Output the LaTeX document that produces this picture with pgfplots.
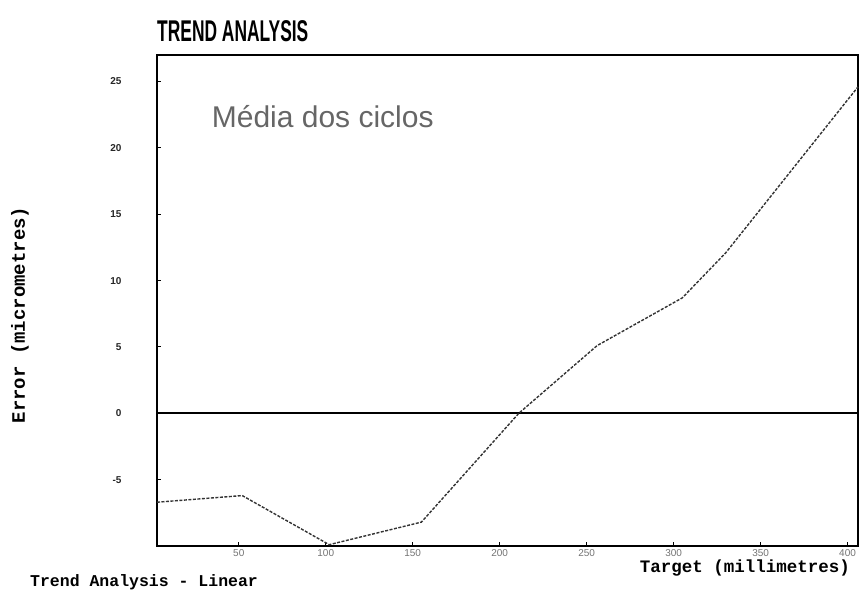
\documentclass[border=0pt]{standalone}
\usepackage{pgfplots}
\pgfplotsset{compat=1.18}
\usepackage{fontspec}
\setmainfont{Liberation Sans}
\setmonofont{Liberation Mono}
\begin{document}
\begin{tikzpicture}
\path[use as bounding box] (-157pt,-52pt) rectangle (704pt,546pt);
\begin{axis}[
  at={(0pt,0pt)}, anchor=south west,
  scale only axis, width=701pt, height=491pt,
  xmin=3, xmax=406, ymin=-10, ymax=27,
  xtick={50,100,...,400}, ytick={-5,0,...,25},
  tick align=inside, xtick pos=bottom, ytick pos=left,
  major tick length=4pt,
  tick style={black, line width=1pt},
  axis line style={line width=2pt},
  /pgf/number format/assume math mode=true,
  xticklabel style={font=\fontsize{10}{10}\selectfont, text=black!55},
  yticklabel style={font=\fontsize{10}{10}\selectfont\bfseries, text=black!85, xshift=-32pt},
  clip=false,
]
\addplot[black, line width=2pt] coordinates {(3,0) (406,0)};
\addplot[black!80, line width=1.4pt, dash pattern=on 3pt off 1.5pt] coordinates {
  (3,-6.7) (52,-6.2) (102,-9.9) (155,-8.2) (211,0) (256,5.1) (305,8.7) (330,12.1) (406,24.6)
};
\node[anchor=west, inner sep=0pt, text=black!60, font=\fontsize{30}{30}\selectfont] at (rel axis cs:0.078,0.874) {Média dos ciclos};
\end{axis}
\node[anchor=west, inner sep=0pt, font=\bfseries\fontsize{30}{30}\selectfont] at (0pt,515pt) {\scalebox{0.58}[1]{TREND ANALYSIS}};
\node[rotate=90, inner sep=0pt, font=\ttfamily\bfseries\fontsize{19}{19}\selectfont] at (-137pt,231pt) {Error (micrometres)};
\node[anchor=east, inner sep=0pt, font=\ttfamily\bfseries\fontsize{17.5}{17.5}\selectfont] at (693pt,-22pt) {Target (millimetres)};
\node[anchor=west, inner sep=0pt, font=\ttfamily\bfseries\fontsize{16.5}{16.5}\selectfont] at (-127pt,-36pt) {Trend Analysis - Linear};
\end{tikzpicture}
\end{document}
